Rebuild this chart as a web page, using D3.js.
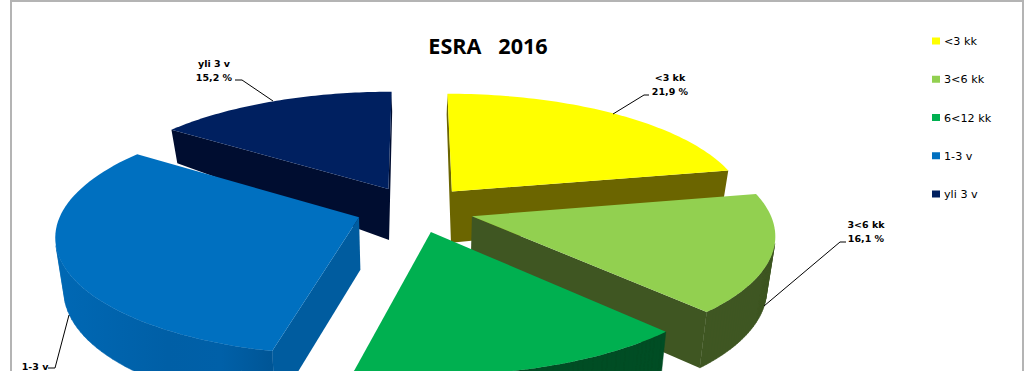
<!DOCTYPE html>
<html>
    <head>
        <meta charset="UTF-8">
        <script src="https://d3js.org/d3.v7.min.js"></script>

        <style>
            html, body {
                margin: 0;
                background: white;
                overflow: hidden;
            }

            svg {
                display: block;
            }

            .title {
                font-family: "Open Sans", sans-serif;
                font-size: 21.6px;
                font-weight: 700;
            }

            .bar-label {
                font-family: "DejaVu Sans", sans-serif;
                font-size: 9.5px;
                font-weight: 700;
            }

            .legend-label {
                font-family: "DejaVu Sans", sans-serif;
                font-size: 11.2px;
            }

            .leader {
                fill: none;
                stroke: black;
                stroke-width: 1px;
            }
        </style>
    </head>
    <body>
        <svg></svg>

        <script>
            // values, the two hidden ones are estimates
            const categories = ["<3 kk", "3<6 kk", "6<12 kk", "1-3 v", "yli 3 v"];
            const values = [21.9, 16.1, 15.6, 31.2, 15.2];
            const topColours = ["#ffff00", "#92d050", "#00b050", "#0070c0", "#002060"];
            const sideColours = ["#6b6500", "#3f5622", "#004d24", "#005c9f", "#000d30"];

            const width = 1024, height = 371;

            // camera of the fake 3D pie
            const cx = 415, cy = 209,
                scaleX = 296.5, scaleY = 116,
                perspective = 0.14,
                explode = 0.2,
                zShrink = 0.024;

            // wall height gets smaller towards the back of the pie
            const depth = d3.scaleLinear()
                .domain([-1, 0.2, 0.8])
                .range([57, 51, 32]);

            function project (u, v, z) {
                const w = 1 + perspective * v;
                const x = cx + scaleX * u / w;
                const y = cy - scaleY * v / w;
                return [cx + (x - cx) * (1 - zShrink * z), y + depth(v) * z];
            }

            const svg = d3.select("svg")
                .attr("width", width)
                .attr("height", height)
                .attr("viewBox", "0 0 " + width + " " + height);

            // The round wall of 1-3 v is shaded from left to right
            const wallGradient = svg.append("defs")
                .append("linearGradient")
                    .attr("id", "blue-wall")
                    .attr("gradientUnits", "userSpaceOnUse")
                    .attr("x1", 60)
                    .attr("x2", 275)
                    .attr("y1", 0)
                    .attr("y2", 0);

            wallGradient.selectAll("stop")
                .data([[0, "#0068b4"], [0.5, "#005fa6"], [0.75, "#0060a8"], [1, "#005595"]])
                .join("stop")
                    .attr("offset", d => d[0])
                    .attr("stop-color", d => d[1]);

            // Chart frame, the bottom edge is cut off in the picture
            svg.append("path")
                .attr("d", `M11,${height} V1 H1023 V${height}`)
                .attr("fill", "none")
                .attr("stroke", "#b4b4b4")
                .attr("stroke-width", 2);

            const arcs = d3.pie().sort(null)(values);

            // Back to front
            const drawOrder = [4, 0, 3, 1, 2];

            drawOrder.forEach(function (i) {
                const d = arcs[i];
                const mid = (d.startAngle + d.endAngle) / 2;
                const ox = explode * Math.sin(mid), oy = explode * Math.cos(mid);

                // outline of the slice on the pie plane, clockwise from above
                const rim = d3.range(0, 61).map(function (k) {
                    const a = d.startAngle + (d.endAngle - d.startAngle) * k / 60;
                    return [ox + Math.sin(a), oy + Math.cos(a)];
                });
                const outline = [[ox, oy], ...rim];

                const g = svg.append("g");
                let cutWalls = "", roundWall = "";

                outline.forEach(function (p, k) {
                    const q = outline[(k + 1) % outline.length];
                    const quad = [project(p[0], p[1], 0), project(q[0], q[1], 0), project(q[0], q[1], 1), project(p[0], p[1], 1)];

                    if (d3.polygonArea(quad) <= 0) return;

                    const isRim = k > 0 && k < outline.length - 1;
                    if (isRim) roundWall += "M" + quad.join("L") + "Z";
                    else cutWalls += "M" + quad.join("L") + "Z";
                });

                g.append("path")
                    .attr("d", roundWall)
                    .attr("fill", i === 3 ? "url(#blue-wall)" : sideColours[i])
                    .attr("stroke", i === 3 ? "url(#blue-wall)" : sideColours[i])
                    .attr("stroke-width", 0.5);

                g.append("path")
                    .attr("d", cutWalls)
                    .attr("fill", sideColours[i]);

                g.append("path")
                    .attr("d", "M" + outline.map(p => project(p[0], p[1], 0)).join("L") + "Z")
                    .attr("fill", topColours[i]);
            });

            // Title
            svg.append("text")
                .attr("class", "title")
                .attr("x", 488)
                .attr("y", 54)
                .attr("text-anchor", "middle")
                .attr("xml:space", "preserve")
                .text("ESRA   2016");

            // Data labels, the 6<12 kk label and the value of 1-3 v are below the crop
            const percent = d3.format(".1f");
            const labelText = v => percent(v).replace(".", ",") + " %";

            const dataLabels = [
                {i: 4, x: 214, y: 67, line: [[235, 80], [242, 80], [273, 101]]},
                {i: 0, x: 670, y: 81, line: [[649, 95], [644, 95], [613, 114]]},
                {i: 1, x: 866, y: 228, line: [[846, 242], [840, 242], [764, 306]]},
                {i: 3, x: 35, y: 369.5, line: [[48, 368], [55, 368], [69, 315]], nameOnly: true}
            ];

            dataLabels.forEach(function (l) {
                svg.append("path")
                    .attr("class", "leader")
                    .attr("d", d3.line()(l.line));

                svg.append("text")
                    .attr("class", "bar-label")
                    .attr("x", l.x)
                    .attr("y", l.y)
                    .attr("text-anchor", "middle")
                    .text(categories[l.i]);

                if (l.nameOnly) return;

                svg.append("text")
                    .attr("class", "bar-label")
                    .attr("x", l.x)
                    .attr("y", l.y + 14)
                    .attr("text-anchor", "middle")
                    .text(labelText(values[l.i]));
            });

            // Legend
            const legendY = d3.scalePoint()
                .domain(categories)
                .range([41, 194]);

            const legend = svg.append("g")
                .selectAll("g")
                .data(categories)
                .join("g")
                    .attr("transform", d => `translate(932, ${legendY(d)})`);

            legend.append("rect")
                .attr("y", -3.5)
                .attr("width", 8)
                .attr("height", 7)
                .attr("fill", (d, i) => topColours[i]);

            legend.append("text")
                .attr("class", "legend-label")
                .attr("x", 12)
                .attr("y", 4)
                .text(d => d);
        </script>
    </body>
</html>
